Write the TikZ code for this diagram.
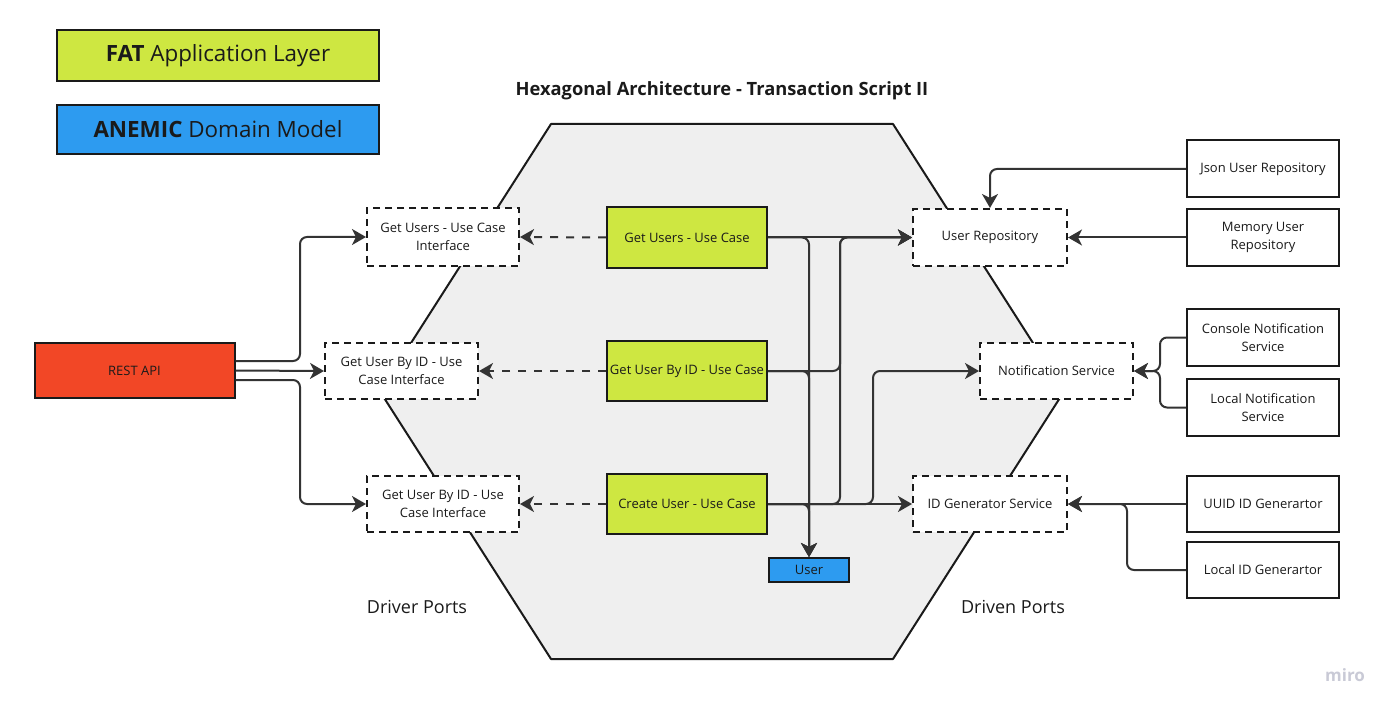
\documentclass[tikz,border=0pt]{standalone}
\usepackage{fontspec}
\setmainfont{Open Sans}
\usetikzlibrary{arrows.meta}
\definecolor{lime}{HTML}{CEE741}
\definecolor{miroblue}{HTML}{2D9BF0}
\definecolor{mirored}{HTML}{F24726}
\definecolor{hexfill}{HTML}{EFEFEF}
\definecolor{ink}{HTML}{1A1A1A}
\definecolor{wire}{HTML}{333333}
\definecolor{logo}{HTML}{C9CAD6}
\tikzset{
  base/.style={draw=ink, line width=2pt, inner sep=0pt, align=center, text=ink,
    font=\fontsize{13}{18}\selectfont},
  solidbox/.style={base, fill=white},
  dashbox/.style={base, fill=white, dash pattern=on 7pt off 5pt},
  ucbox/.style={base, fill=lime},
  conn/.style={draw=wire, line width=2pt, rounded corners=7pt,
    -{Stealth[length=14pt,width=16pt,inset=4pt]}},
  dconn/.style={conn, dash pattern=on 8pt off 8pt},
}
\begin{document}
\begin{tikzpicture}[x=1pt,y=-1pt]
\useasboundingbox (0,0) rectangle (1400,714);
% hexagon
\draw[draw=ink, line width=2pt, fill=hexfill, line join=round]
  (380,391.5) -- (551,124) -- (893,124) -- (1064,391.5) -- (893,659) -- (551,659) -- cycle;
% legend
\node[base, fill=lime, minimum width=322pt, minimum height=51pt, font=\fontsize{22.4}{26}\selectfont] (fat) at (218,56) {\textbf{FAT} Application Layer};
\node[base, fill=miroblue, minimum width=322pt, minimum height=49pt, font=\fontsize{22.4}{26}\selectfont] (anemic) at (218,129.5) {\textbf{ANEMIC} Domain Model};
% title and labels
\node[font=\fontsize{18.3}{22}\selectfont\bfseries, text=ink] (title) at (722,91) {Hexagonal Architecture - Transaction Script II};
\node[font=\fontsize{18}{22}\selectfont, text=ink] (driver) at (417,607) {Driver Ports};
\node[font=\fontsize{18}{22}\selectfont, text=ink] (driven) at (1013,607) {Driven Ports};
\node[font=\fontsize{17}{20}\selectfont\bfseries, text=logo] (miro) at (1345,675) {miro};
% nodes
\node[base, fill=mirored, minimum width=200pt, minimum height=55pt] (rest) at (134.5,370.5) {REST API};
\node[dashbox, minimum width=152pt, minimum height=57pt] (if1) at (443,237) {Get Users - Use Case\\Interface};
\node[dashbox, minimum width=153pt, minimum height=56pt] (if2) at (401.5,371) {Get User By ID - Use\\Case Interface};
\node[dashbox, minimum width=152pt, minimum height=56pt] (if3) at (443,504) {Get User By ID - Use\\Case Interface};
\node[ucbox, minimum width=160pt, minimum height=60pt] (uc1) at (687,237.5) {Get Users - Use Case};
\node[ucbox, minimum width=160pt, minimum height=60pt] (uc2) at (687,371) {Get User By ID - Use Case};
\node[ucbox, minimum width=160pt, minimum height=60pt] (uc3) at (687,504) {Create User - Use Case};
\node[base, fill=miroblue, minimum width=80pt, minimum height=24pt] (user) at (809,570) {User};
\node[dashbox, minimum width=154pt, minimum height=57pt] (repo) at (990,237.5) {User Repository};
\node[dashbox, minimum width=153pt, minimum height=56pt] (notif) at (1056.5,371) {Notification Service};
\node[dashbox, minimum width=154pt, minimum height=56pt] (idgen) at (990,504) {ID Generator Service};
\node[solidbox, minimum width=152pt, minimum height=57pt] (json) at (1263,169) {Json User Repository};
\node[solidbox, minimum width=152pt, minimum height=57pt] (mem) at (1263,237.5) {Memory User\\Repository};
\node[solidbox, minimum width=152pt, minimum height=57pt] (console) at (1263,337.5) {Console Notification\\Service};
\node[solidbox, minimum width=152pt, minimum height=57pt] (localnotif) at (1263,407.5) {Local Notification\\Service};
\node[solidbox, minimum width=152pt, minimum height=56pt] (uuid) at (1263,504) {UUID ID Generartor};
\node[solidbox, minimum width=152pt, minimum height=56pt] (localid) at (1263,570) {Local ID Generartor};
% driver side
\draw[conn] ([yshift=9.5pt]rest.east) -- (300,361) |- (if1.west);
\draw[conn] (rest.east) -- (if2.west);
\draw[conn] ([yshift=-9.5pt]rest.east) -- (300,380) |- (if3.west);
\draw[dconn] (uc1.west) -- (if1.east);
\draw[dconn] (uc2.west) -- (if2.east);
\draw[dconn] (uc3.west) -- (if3.east);
% core
\draw[conn] (uc1.east) -| (user.north);
\draw[conn] (uc2.east) -| (user.north);
\draw[conn] (uc3.east) -| (user.north);
\draw[conn] (uc1.east) -- (repo.west);
\draw[conn] (uc2.east) -- (840,371) |- (repo.west);
\draw[conn] (uc3.east) -- (840,504) |- (repo.west);
\draw[conn] (uc3.east) -- (873,504) |- (notif.west);
\draw[conn] (uc3.east) -- (idgen.west);
% driven side
\draw[conn] (json.west) -| (repo.north);
\draw[conn] (mem.west) -- (repo.east);
\draw[conn] (console.west) -- (1160,337.5) |- (notif.east);
\draw[conn] (localnotif.west) -- (1160,407.5) |- (notif.east);
\draw[conn] (uuid.west) -- (idgen.east);
\draw[conn] (localid.west) -- (1127,570) |- (idgen.east);
\end{tikzpicture}
\end{document}
